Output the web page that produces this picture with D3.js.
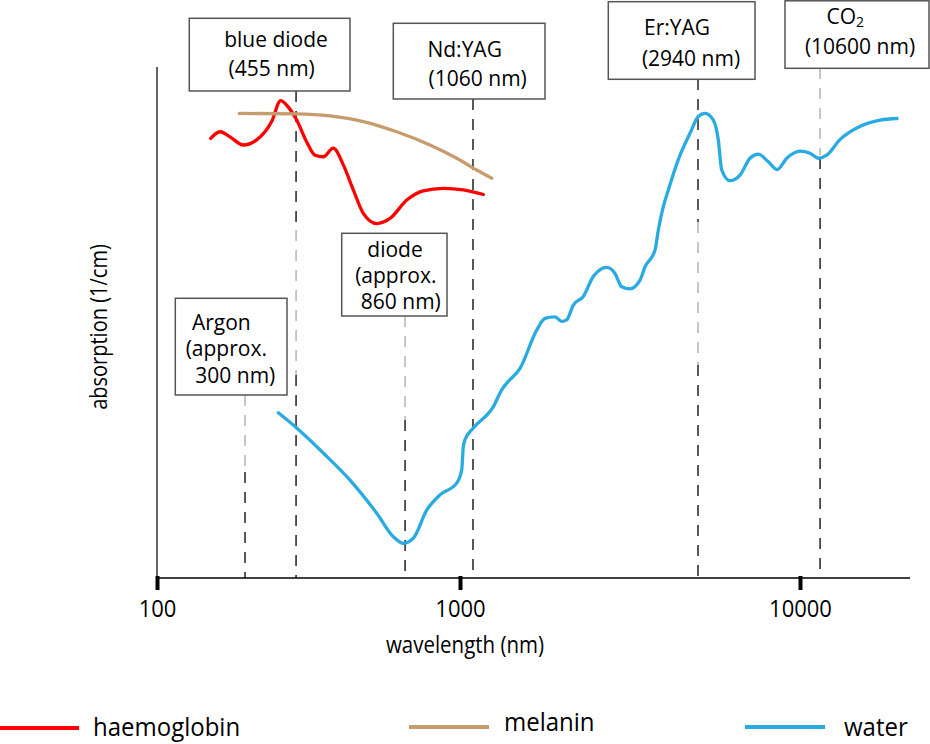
<!DOCTYPE html>
<html>
<head>
<meta charset="utf-8">
<script src="https://cdn.jsdelivr.net/npm/d3@7"></script>
<style>
  html, body { margin: 0; padding: 0; background: #fff; }
  svg { display: block; font-family: "Open Sans", sans-serif; }
</style>
</head>
<body>
<svg id="chart" width="930" height="744"></svg>
<script>
// ---------- data (wavelength in nm, absorption in arbitrary units 0-100) ----------
const haemoglobinNm  = [150.4, 161.4, 174.1, 192.7, 213.3, 239.0, 256.0, 267.9, 289.1, 311.9, 332.3, 353.9, 381.8, 412.0, 444.5, 479.6, 531.1, 587.5, 667.3, 756.5, 880.7, 1022.6, 1171];
const haemoglobinAbs = [86.2, 87.5, 86.5, 84.9, 85.9, 89.5, 93.6, 92.7, 89.8, 85.5, 82.9, 82.6, 84.3, 81.0, 76.1, 71.5, 69.5, 70.5, 74.1, 75.9, 76.4, 76.1, 75.2];

const melaninNm  = [186.9, 289.1, 372.4, 479.6, 618.0, 796.2, 975.2, 1119.8, 1239.7];
const melaninAbs = [91.1, 91.0, 90.6, 89.5, 87.5, 84.9, 82.3, 80.0, 78.4];

const waterNm  = [251.4, 285.4, 353.9, 433.5, 531.1, 602.6, 650.3, 701.4, 776.5, 859.0, 975.2, 1011.6, 1022.6, 1034.4, 1094.3, 1253.3, 1326.7, 1372.5, 1501.5, 1681, 1778.3, 1903, 1991, 2060, 2154, 2305, 2466, 2701, 2857, 2989, 3162, 3384, 3500, 3746, 3830, 3962, 4100, 4437, 4748, 5022, 5256, 5559, 5751, 5885, 6224, 6661, 7128, 7542, 8069, 8575, 9141, 10000, 10700, 11320, 11980, 13110, 15015, 17190, 19250];
const waterAbs = [32.4, 29.7, 24.5, 19.2, 12.7, 8.1, 6.8, 7.8, 13.3, 16.3, 18.6, 21.2, 25.7, 27.1, 29.4, 33.6, 36.9, 38.2, 41.1, 48.6, 50.9, 51.2, 50.3, 50.6, 53.5, 55.2, 59.1, 60.9, 59.7, 57.1, 56.7, 58.4, 61.0, 64.3, 68.2, 72.8, 76.1, 82.9, 87.2, 90.5, 91.1, 89.8, 85.9, 80.0, 77.9, 79.0, 82.3, 83.1, 81.6, 80.1, 82.3, 83.7, 83.3, 82.3, 82.9, 86.0, 88.6, 89.8, 90.1];

// laser markers: where each dashed line is drawn on the wavelength axis, and its label
const laserPositionNm = [195.2, 287.7, 658.7, 1092, 5012, 11450];
const laserLine1 = ["Argon", "blue diode", "diode", "Nd:YAG", "Er:YAG", "CO"];
const laserLine2 = ["(approx.", "(455 nm)", "(approx.", "(1060 nm)", "(2940 nm)", "(10600 nm)"];
const laserLine3 = ["300 nm)", "", "860 nm)", "", "", ""];

const xTickValues = [100, 1000, 10000];
const xTickLabels = ["100", "1000", "10000"];

const seriesNames = ["haemoglobin", "melanin", "water"];

// ---------- layout / style ----------
const colors = { haemoglobin: "#ff0000", melanin: "#c69c6d", water: "#29abe2" };
const axisY = 578, axisTop = 67;

const x = d3.scaleLog().domain([100, 1000, 10000, 21000]).range([157, 460, 800, 910]);
const y = d3.scaleLinear().domain([0, 100]).range([axisY, axisY - 510]);

// box layout for each laser label: [left, top, right, bottom], text anchor centres and baselines
const boxLayout = [
  { r: [175.3, 298.3, 287, 395],  t: [[221.3, 330], [226.3, 356], [235.3, 382.7]] },
  { r: [189.3, 18.3, 350, 91],    t: [[276, 47], [271.7, 76]] },
  { r: [341.7, 233.3, 447, 316],  t: [[395, 256.7], [395.8, 283.3], [400.8, 309.3]] },
  { r: [393.3, 23.3, 545, 99],    t: [[464.7, 56.7], [477.7, 86]] },
  { r: [608.3, 1.7, 755, 79.3],   t: [[677, 35], [691, 66]] },
  { r: [785, 0.8, 929, 68.3],     t: [[845.3, 23.5], [860, 53.5]] }
];
// dashed line segments (grey vs black parts), pixel y ranges
const dashSegments = [
  [[395, 472, "#aaa"], [472, 578, "#000"]],
  [[91, 230, "#000"], [230, 375, "#aaa"], [375, 578, "#000"]],
  [[316, 420, "#aaa"], [420, 578, "#000"]],
  [[99, 578, "#000"]],
  [[79, 222, "#000"], [222, 365, "#aaa"], [365, 578, "#000"]],
  [[68, 155, "#aaa"], [158, 578, "#000"]]
];

const svg = d3.select("#chart");

// make Open Sans look a little taller/narrower (like the reference's humanist face)
function narrow(sel, k) {
  sel.each(function () {
    const fs = +this.getAttribute("font-size");
    this.setAttribute("font-size", fs * k);
    const L = this.getComputedTextLength();
    this.setAttribute("textLength", L / k);
    this.setAttribute("lengthAdjust", "spacingAndGlyphs");
  });
}

// dashed laser lines
laserPositionNm.forEach((nm, i) => {
  dashSegments[i].forEach(s => {
    svg.append("line")
      .attr("x1", x(nm)).attr("x2", x(nm))
      .attr("y1", s[0]).attr("y2", s[1])
      .attr("stroke", s[2]).attr("stroke-width", 1.3)
      .attr("stroke-dasharray", "11,9");
  });
});

// y axis line (no ticks)
svg.append("line")
  .attr("x1", x(100)).attr("x2", x(100))
  .attr("y1", axisTop).attr("y2", axisY)
  .attr("stroke", "#333").attr("stroke-width", 1.5);

// x axis
const xAxis = d3.axisBottom(x).tickValues(xTickValues)
  .tickFormat((d, i) => xTickLabels[i]).tickSize(0).tickPadding(0);
const gx = svg.append("g").attr("transform", `translate(0,${axisY})`).call(xAxis);
gx.select(".domain").attr("d", `M${x(100)},0H910`).attr("stroke", "#000").attr("stroke-width", 1.6);
gx.selectAll(".tick line").remove();
gx.selectAll(".tick").append("line")
  .attr("y1", -2).attr("y2", 12).attr("stroke", "#000").attr("stroke-width", 4);
gx.selectAll(".tick text")
  .attr("y", 39).attr("dy", null)
  .attr("font-size", 22).attr("font-family", "Open Sans, sans-serif").attr("fill", "#000")
  .call(narrow, 1.1);

svg.append("text").attr("x", 465).attr("y", 653).attr("text-anchor", "middle")
  .attr("font-size", 20.5).attr("fill", "#000").text("wavelength (nm)").call(narrow, 1.12);
svg.append("text").attr("transform", "translate(107,327) rotate(-90)")
  .attr("text-anchor", "middle").attr("font-size", 20).attr("fill", "#000")
  .text("absorption (1/cm)").call(narrow, 1.15);

// curves
const line = d3.line().x(d => x(d[0])).y(d => y(d[1])).curve(d3.curveMonotoneX);
const series = [
  { name: "haemoglobin", nm: haemoglobinNm, abs: haemoglobinAbs },
  { name: "melanin", nm: melaninNm, abs: melaninAbs },
  { name: "water", nm: waterNm, abs: waterAbs }
];
series.forEach(s => {
  svg.append("path")
    .datum(s.nm.map((v, i) => [v, s.abs[i]]))
    .attr("d", line)
    .attr("fill", "none")
    .attr("stroke", colors[s.name])
    .attr("stroke-width", 3.3)
    .attr("stroke-linecap", "round")
    .attr("stroke-linejoin", "round");
});

// label boxes
laserLine1.forEach((t1, i) => {
  const b = boxLayout[i];
  svg.append("rect")
    .attr("x", b.r[0]).attr("y", b.r[1])
    .attr("width", b.r[2] - b.r[0]).attr("height", b.r[3] - b.r[1])
    .attr("fill", "#fff").attr("stroke", "#555").attr("stroke-width", 1.5);
  const lines = [t1, laserLine2[i], laserLine3[i]].filter(s => s !== "");
  lines.forEach((txt, j) => {
    const te = svg.append("text")
      .attr("x", b.t[j][0]).attr("y", b.t[j][1])
      .attr("text-anchor", "middle").attr("font-size", 21).attr("fill", "#000");
    te.append("tspan").text(txt);
    if (i === 5 && j === 0) {
      te.append("tspan").attr("font-size", 14).attr("dy", 3).text("2");
    }
  });
});

// legend
const legendLayout = [
  { x1: 0, x2: 79, ly: 728, tx: 93, ty: 736 },
  { x1: 409, x2: 489, ly: 727, tx: 504, ty: 731 },
  { x1: 745, x2: 825, ly: 727, tx: 844, ty: 736 }
];
seriesNames.forEach((n, i) => {
  const l = legendLayout[i];
  svg.append("line").attr("x1", l.x1).attr("x2", l.x2).attr("y1", l.ly).attr("y2", l.ly)
    .attr("stroke", colors[n]).attr("stroke-width", 4);
  svg.append("text").attr("x", l.tx).attr("y", l.ty).attr("font-size", 24)
    .attr("fill", "#000").text(n).call(narrow, 1.08);
});
</script>
</body>
</html>
